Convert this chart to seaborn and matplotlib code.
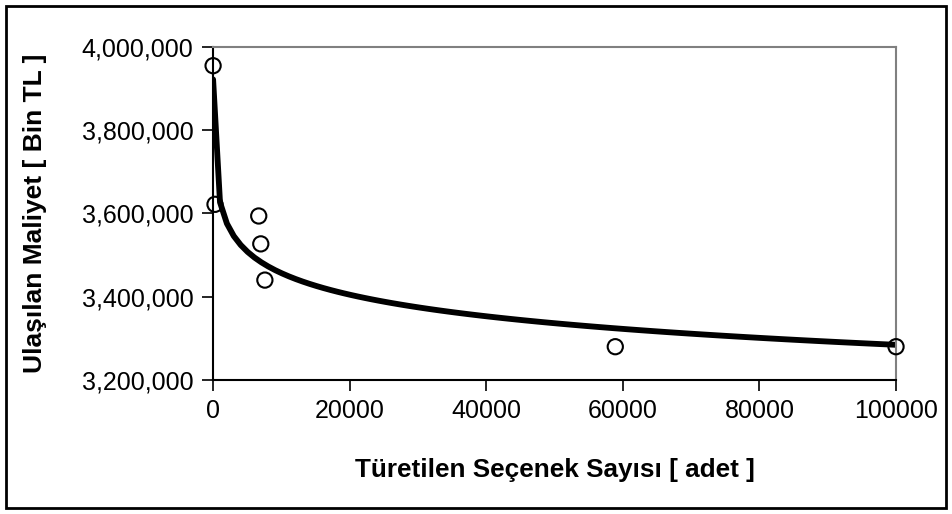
import matplotlib
matplotlib.use("Agg")
import matplotlib.pyplot as plt
import matplotlib.ticker as mticker
from matplotlib.patches import Rectangle
import seaborn as sns
import pandas as pd

# data
secenek = [20, 300, 6700, 7000, 7600, 58900, 100000]
maliyet = [3955000, 3622000, 3594000, 3527000, 3440000, 3280000, 3280000]

df = pd.DataFrame({"secenek": secenek, "maliyet": maliyet})

sns.set_style("white")
plt.rcParams["font.family"] = ["Liberation Sans", "DejaVu Sans"]
plt.rcParams["text.color"] = "black"
plt.rcParams["axes.labelcolor"] = "black"

fig = plt.figure(figsize=(9.52, 5.14), dpi=100)
fig.patch.set_facecolor("white")
ax = fig.add_axes([0.2237, 0.2607, 0.7175, 0.6479])

# log trend line + open circle markers
sns.regplot(
    data=df, x="secenek", y="maliyet", logx=True, ci=None, ax=ax,
    scatter_kws=dict(s=120, facecolors="none", edgecolors="black",
                     linewidths=1.5, clip_on=False, zorder=3, alpha=1),
    line_kws=dict(color="black", lw=4.2, zorder=2),
)

ax.set_xlim(0, 100000)
ax.set_ylim(3200000, 4000000)
ax.set_xticks(range(0, 100001, 20000))
ax.set_yticks(range(3200000, 4000001, 200000))
ax.yaxis.set_major_formatter(mticker.FuncFormatter(lambda v, p: f"{int(v):,}"))
ax.xaxis.set_major_formatter(mticker.FuncFormatter(lambda v, p: f"{int(v)}"))

ax.tick_params(axis="both", direction="out", length=8, width=1.2,
               labelsize=18, colors="black", pad=6, left=True, bottom=True)
for s in ["left", "bottom"]:
    ax.spines[s].set_color("black")
    ax.spines[s].set_linewidth(1.5)
for s in ["top", "right"]:
    ax.spines[s].set_color("#808080")
    ax.spines[s].set_linewidth(1.5)

ax.set_xlabel("Türetilen Seçenek Sayısı [ adet ]", fontsize=18.8,
              fontweight="bold", labelpad=25, color="black")
ax.set_ylabel("Ulaşılan Maliyet [ Bin TL ]", fontsize=19,
              fontweight="bold", labelpad=25, color="black")

# outer frame
fig.patches.append(Rectangle((6 / 952, 6 / 514), 940 / 952, 502 / 514,
                             transform=fig.transFigure, fill=False,
                             edgecolor="black", lw=2))

fig.savefig("out.png", dpi=100)
plt.close()
